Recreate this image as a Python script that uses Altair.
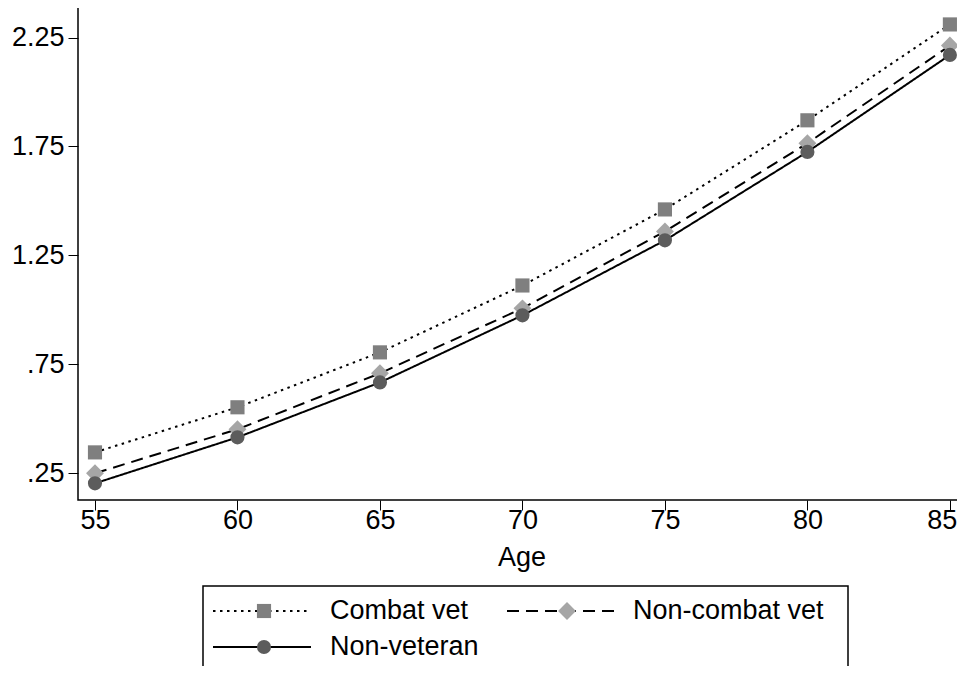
import altair as alt
import pandas as pd

ages = [55, 60, 65, 70, 75, 80, 85]
series_names = ["Combat vet", "Non-combat vet", "Non-veteran"]
combat_vet = [0.346, 0.553, 0.805, 1.112, 1.461, 1.870, 2.310]
non_combat_vet = [0.250, 0.452, 0.709, 1.007, 1.360, 1.765, 2.213]
non_veteran = [0.204, 0.415, 0.667, 0.975, 1.319, 1.725, 2.170]
y_ticks = [0.25, 0.75, 1.25, 1.75, 2.25]

rows = []
for name, vals in zip(series_names, [combat_vet, non_combat_vet, non_veteran]):
    for a, v in zip(ages, vals):
        rows.append({"age": a, "value": v, "series": name})
df = pd.DataFrame(rows)

FONT = "Liberation Sans"
FS = 27
dashes = [[2.5, 4.5], [12, 7], [1, 0]]
shapes = ["square", "diamond", "circle"]
fills = ["#7f7f7f", "#a6a6a6", "#5c5c5c"]
sizes = [200, 320, 200]

x_enc = alt.X("age:Q", scale=alt.Scale(domain=[54.404, 85.53], nice=False, zero=False),
              axis=alt.Axis(values=ages, title="Age", tickSize=10, tickColor="black",
                            domain=False, grid=False, labelFontSize=FS, titleFontSize=FS,
                            titleFontWeight="normal", labelColor="black", titleColor="black",
                            labelPadding=-3, titlePadding=11, labelFont=FONT, titleFont=FONT,
                            labelAlign=alt.condition("datum.value == 85", alt.value("right"), alt.value("center")),
                            labelOffset=alt.condition("datum.value == 85", alt.value(7), alt.value(0))))
y_enc = alt.Y("value:Q", scale=alt.Scale(domain=[0.1275, 2.39], nice=False, zero=False),
              axis=alt.Axis(values=y_ticks, title=None, tickSize=10, tickColor="black",
                            domain=False, grid=False, labelFontSize=FS, labelColor="black",
                            labelPadding=4, labelFont=FONT,
                            labelExpr="datum.value < 1 ? substring(format(datum.value, '.2f'), 1) : format(datum.value, '.2f')"))

base = alt.Chart(df)
lines = base.mark_line(color="black", strokeWidth=2).encode(
    x=x_enc, y=y_enc,
    strokeDash=alt.StrokeDash("series:N", scale=alt.Scale(domain=series_names, range=dashes), legend=None),
    detail="series:N",
)
layers = [lines]
for name, shp, fc, sz in zip(series_names, shapes, fills, sizes):
    layers.append(
        base.transform_filter(alt.datum.series == name)
        .mark_point(shape=shp, filled=True, fill=fc, size=sz, opacity=1, strokeWidth=0)
        .encode(x="age:Q", y="value:Q")
    )

# legend (drawn below the plot)
one = pd.DataFrame({"k": [0]})
leg = [
    alt.Chart(one).mark_rect(fill="white", stroke="black", strokeWidth=1.5).encode(
        x=alt.value(125), x2=alt.value(770), y=alt.value(579), y2=alt.value(720))
]
pos = [(135, 233, 186, 252, 604), (429, 539, 489, 555, 604), (135, 233, 186, 252, 640)]
for (x0, x1, xm, xt, yy), name, dsh, shp, fc, sz in zip(pos, series_names, dashes, shapes, fills, sizes):
    leg.append(alt.Chart(one).mark_rule(color="black", strokeWidth=2, strokeDash=dsh).encode(
        x=alt.value(x0), x2=alt.value(x1), y=alt.value(yy)))
    leg.append(alt.Chart(one).mark_point(shape=shp, filled=True, fill=fc, size=sz, opacity=1, strokeWidth=0).encode(
        x=alt.value(xm), y=alt.value(yy)))
    leg.append(alt.Chart(one).mark_text(text=name, font=FONT, fontSize=FS, align="left",
                                         baseline="middle", color="black").encode(
        x=alt.value(xt), y=alt.value(yy)))

chart = alt.layer(*layers, *leg).properties(
    width=887, height=493,
    autosize=alt.AutoSizeParams(type="none"),
    padding={"left": 70, "top": -1, "right": -8, "bottom": 166},
).configure(font=FONT).configure_view(stroke="black", strokeWidth=1.5)

chart.save("out.html", embed_options={"renderer": "svg", "actions": False})
